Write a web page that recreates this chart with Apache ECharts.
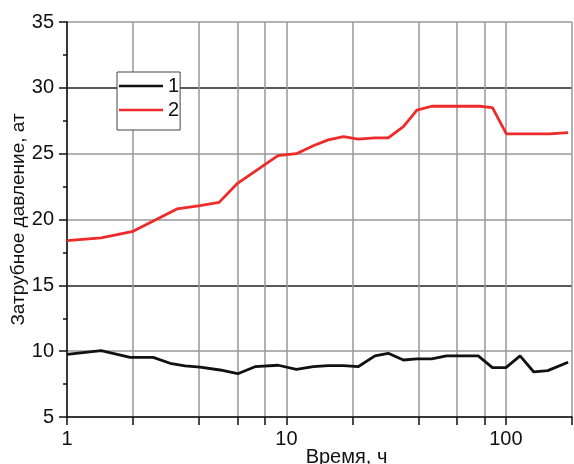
<!DOCTYPE html>
<html>
<head>
  <meta charset="utf-8">
  <title>Затрубное давление</title>
  <script src="https://cdn.jsdelivr.net/npm/echarts@6/dist/echarts.min.js"></script>
  <style>
    html, body { margin: 0; padding: 0; background: #fff; }
    #main { width: 574px; height: 464px; }
  </style>
</head>
<body>
  <div id="main"></div>
  <script>
  // время, ч и давление, ат
  var time1 = [1, 1.43, 1.94, 2.47, 2.95, 3.45, 4.04, 4.98, 6.0, 7.19, 9.17, 11.1, 13.25, 15.5, 18.2, 21.2,
               25.3, 29.1, 34.1, 39.3, 45.9, 53.6, 74.8, 86.8, 100, 116, 134, 155, 192];
  var press1 = [9.76, 10.04, 9.53, 9.53, 9.08, 8.88, 8.78, 8.57, 8.29, 8.82, 8.93, 8.62, 8.82, 8.9, 8.9, 8.82,
                9.64, 9.84, 9.33, 9.41, 9.41, 9.64, 9.64, 8.75, 8.75, 9.64, 8.42, 8.52, 9.16];
  var time2 = [1, 1.43, 2, 3.17, 4.04, 4.93, 5.94, 9.14, 11.1, 13.25, 15.5, 18.2, 21.2, 25.3, 29.1, 34.1,
               39.3, 45.9, 76, 86.8, 100.5, 158, 192];
  var press2 = [18.4, 18.6, 19.1, 20.8, 21.05, 21.3, 22.7, 24.85, 25.0, 25.6, 26.05, 26.3, 26.1, 26.2, 26.2, 27.06,
                28.3, 28.6, 28.6, 28.5, 26.5, 26.5, 26.6];
  var seriesNames = ['1', '2'];
  var xTicks = [1, 2, 4, 6, 8, 10, 20, 40, 60, 80, 100, 200];
  var xLabels = [1, 10, 100];

  function pairs(xs, ys) {
    return xs.map(function (x, i) { return [x, ys[i]]; });
  }

  var myChart = echarts.init(document.getElementById('main'));
  myChart.setOption({
    animation: false,
    textStyle: { fontFamily: 'Liberation Sans, Arial, sans-serif' },
    grid: { left: 67, top: 22, right: 2, bottom: 47, outerBoundsMode: 'none', containLabel: false },
    legend: {
      orient: 'vertical',
      left: 117,
      top: 72,
      padding: [4, 1, 10, 2],
      icon: 'rect',
      itemWidth: 44,
      itemHeight: 2.5,
      itemGap: 4,
      backgroundColor: '#fff',
      borderColor: '#444',
      borderWidth: 1,
      borderRadius: 0,
      textStyle: { fontSize: 20, lineHeight: 20, color: '#111' },
      data: seriesNames
    },
    xAxis: {
      type: 'log',
      logBase: 10,
      min: 1,
      max: 200,
      name: 'Время, ч',
      nameLocation: 'middle',
      nameGap: 30,
      nameMoveOverlap: false,
      nameTextStyle: { fontSize: 20, color: '#111', padding: [0, 0, 0, 54] },
      axisLine: { onZero: false, lineStyle: { color: '#111', width: 1.5 } },
      axisTick: { customValues: xTicks, length: 8, lineStyle: { color: '#111', width: 1.5 } },
      axisLabel: { customValues: xLabels, fontSize: 20, color: '#111', margin: 12 },
      splitLine: { show: true, lineStyle: { color: '#999', width: 1.5 } },
      minorTick: { show: false }
    },
    yAxis: {
      type: 'value',
      min: 5,
      max: 35,
      interval: 5,
      name: 'Затрубное давление, ат',
      nameLocation: 'middle',
      nameGap: 39,
      nameMoveOverlap: false,
      nameTextStyle: { fontSize: 19, color: '#111' },
      axisLine: { show: true, lineStyle: { color: '#111', width: 1.5 } },
      axisTick: { length: 8, lineStyle: { color: '#111', width: 1.5 } },
      minorTick: { show: true, splitNumber: 2, length: 4, lineStyle: { color: '#111', width: 1.5 } },
      axisLabel: { fontSize: 20, color: '#111', margin: 13 },
      splitLine: { show: true, lineStyle: { color: ['#999', '#999', '#222', '#999', '#999', '#222', '#999'], width: 1.5 } }
    },
    series: [
      {
        name: seriesNames[0],
        type: 'line',
        symbol: 'none',
        color: '#111',
        lineStyle: { width: 2.8, color: '#111' },
        data: pairs(time1, press1)
      },
      {
        name: seriesNames[1],
        type: 'line',
        symbol: 'none',
        color: '#ee2a2a',
        lineStyle: { width: 2.8, color: '#ee2a2a' },
        data: pairs(time2, press2)
      }
    ]
  });
  </script>
</body>
</html>
